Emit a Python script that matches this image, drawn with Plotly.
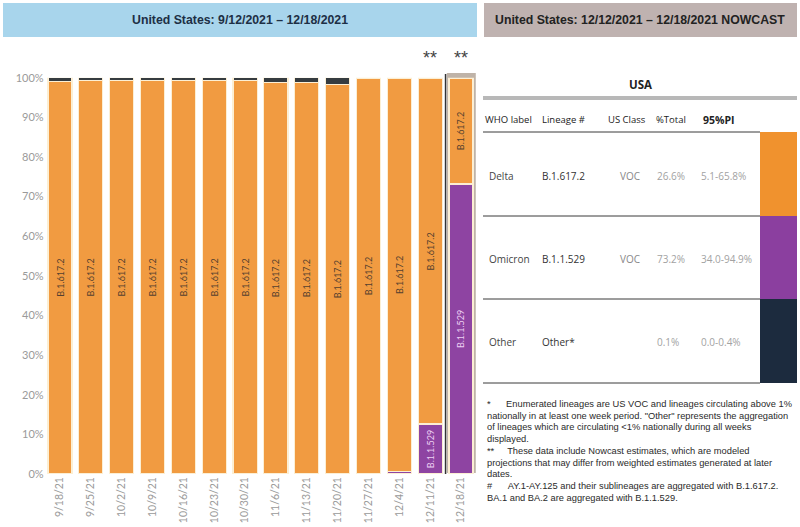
import plotly.graph_objects as go

### Data ###
weeks = ['9/18/21', '9/25/21', '10/2/21', '10/9/21', '10/16/21', '10/23/21', '10/30/21',
         '11/6/21', '11/13/21', '11/20/21', '11/27/21', '12/4/21', '12/11/21', '12/18/21']
omicron = [0, 0, 0, 0, 0, 0, 0, 0, 0, 0, 0, 0.6, 12.6, 73.2]
other = [0.9, 0.8, 0.8, 0.8, 0.8, 0.8, 0.8, 1.2, 1.2, 1.7, 0.1, 0.1, 0.3, 0.1]
delta = [round(100 - o - t, 1) for o, t in zip(omicron, other)]
delta_lbl = ['B.1.617.2'] * len(weeks)
omicron_lbl = ['', '', '', '', '', '', '', '', '', '', '', '', 'B.1.1.529', 'B.1.1.529']
yticks = [0, 10, 20, 30, 40, 50, 60, 70, 80, 90, 100]

# nowcast table
who_label = ['Delta', 'Omicron', 'Other']
lineage = ['B.1.617.2', 'B.1.1.529', 'Other*']
us_class = ['VOC', 'VOC', '']
pct_total = ['26.6%', '73.2%', '0.1%']
pi95 = ['5.1-65.8%', '34.0-94.9%', '0.0-0.4%']
table_cols = ['WHO label', 'Lineage #', 'US Class', '%Total', '95%PI']

footnotes = [
    '*\u00a0\u00a0\u00a0\u00a0\u00a0\u00a0Enumerated lineages are US VOC and lineages circulating above 1%',
    'nationally in at least one week period. "Other" represents the aggregation',
    'of lineages which are circulating <1% nationally during all weeks',
    'displayed.',
    '**\u00a0\u00a0\u00a0\u00a0\u00a0These data include Nowcast estimates, which are modeled',
    'projections that may differ from weighted estimates generated at later',
    'dates.',
    '#\u00a0\u00a0\u00a0\u00a0\u00a0\u00a0AY.1-AY.125 and their sublineages are aggregated with B.1.617.2.',
    'BA.1 and BA.2 are aggregated with B.1.1.529.',
]

ORANGE = '#f19b41'
PURPLE = '#8e44a2'
DARK = '#363c40'
W, H = 800, 527


def X(px):
    return px / W


def Y(py):
    return 1 - py / H


fig = go.Figure()

### Stacked bars ###
edge = dict(color='#fcefd4', width=1.2)
fig.add_trace(go.Bar(x=weeks, y=omicron, marker=dict(color=PURPLE, line=edge), text=omicron_lbl,
                     textposition='inside', insidetextanchor='middle', textangle=-90,
                     textfont=dict(size=9, color='#ecd0f2', family='Lato')))
fig.add_trace(go.Bar(x=weeks, y=delta, marker=dict(color=ORANGE, line=edge), text=delta_lbl,
                     textposition='inside', insidetextanchor='middle', textangle=-90,
                     textfont=dict(size=9, color='#54402f', family='Lato')))
fig.add_trace(go.Bar(x=weeks, y=other, marker=dict(color=DARK, line=edge), textposition='none'))

### Nowcast colour swatch ###
for val, col in [(1, '#1c2b3e'), (1, '#8b3f9f'), (1, '#f0922e')]:
    fig.add_trace(go.Bar(x=['USA'], y=[val], width=1, marker=dict(color=col, line=dict(width=0)),
                         xaxis='x2', yaxis='y2', textposition='none'))

shapes = []
ann = []


def note(px, py, txt, size, color, family='Open Sans', anchor='center'):
    ann.append(dict(x=X(px), y=Y(py), xref='paper', yref='paper', showarrow=False, text=txt,
                    xanchor=anchor, yanchor='middle', font=dict(size=size, color=color, family=family)))


# highlight of the nowcast week + separator
shapes.append(dict(type='rect', xref='x', yref='paper', x0=12.54, x1=13.48, y0=Y(473), y1=Y(73),
                   fillcolor='#bfb3a8', line=dict(width=0), layer='below'))
shapes.append(dict(type='line', xref='x', yref='paper', x0=12.5, x1=12.5, y0=Y(474), y1=Y(74),
                   line=dict(color='#333333', width=1.5)))
for i in [12, 13]:
    ann.append(dict(x=weeks[i], y=Y(58), xref='x', yref='paper', text='**', showarrow=False,
                    xanchor='center', yanchor='middle',
                    font=dict(size=18, color='#444444', family='Liberation Sans')))

# headers
shapes.append(dict(type='rect', xref='paper', yref='paper', x0=X(3), x1=X(477), y0=Y(37), y1=Y(3),
                   fillcolor='#a8d5ec', line=dict(width=0)))
shapes.append(dict(type='rect', xref='paper', yref='paper', x0=X(484), x1=X(797), y0=Y(37), y1=Y(3),
                   fillcolor='#bfb2b0', line=dict(width=0)))
note(240, 20, '<b>United States: 9/12/2021 – 12/18/2021</b>', 12.3, '#1d2f45', 'Liberation Sans')
note(640, 20, '<b>United States: 12/12/2021 – 12/18/2021 NOWCAST</b>', 12.3, '#222222', 'Liberation Sans')

# table
note(640, 84, '<b>USA</b>', 11.5, '#222222')
shapes.append(dict(type='line', xref='paper', yref='paper', x0=X(483), x1=X(797), y0=Y(98), y1=Y(98),
                   line=dict(color='#b8b8b8', width=4)))
col_x = [483, 540, 606, 654, 701]
for cx, name in zip(col_x, table_cols):
    if name == '95%PI':
        note(cx, 120, '<b>' + name + '</b>', 10.5, '#222222', anchor='left')
    else:
        note(cx, 120, name, 9.5, '#222222', anchor='left')
for ly in [132, 216, 299, 383]:
    shapes.append(dict(type='line', xref='paper', yref='paper', x0=X(483), x1=X(760), y0=Y(ly), y1=Y(ly),
                       line=dict(color='#3a3a3a', width=1)))
row_y = [176, 259, 342]
for r in range(3):
    note(487, row_y[r], who_label[r], 10, '#444444', anchor='left')
    note(540, row_y[r], lineage[r], 10, '#333333', anchor='left')
    note(618, row_y[r], us_class[r], 10, '#888888', anchor='left')
    note(655, row_y[r], pct_total[r], 10, '#a2a2a2', anchor='left')
    note(699, row_y[r], pi95[r], 10, '#a2a2a2', anchor='left')

# footnotes
for k, line in enumerate(footnotes):
    note(485, 404 + k * 11.7, line, 9.3, '#2a2a2a', 'Liberation Sans', anchor='left')

fig.update_layout(
    width=W, height=H,
    margin=dict(l=0, r=0, t=0, b=0, autoexpand=False),
    paper_bgcolor='white', plot_bgcolor='white',
    barmode='stack', bargap=0.22, showlegend=False,
    xaxis=dict(domain=[X(44.6), X(476.4)], type='category', tickangle=-90, showgrid=False,
               showline=False, zeroline=False, ticks='', automargin=False,
               tickfont=dict(size=10.5, color='#9a9a9a', family='Lato')),
    yaxis=dict(domain=[Y(474), Y(77.7)], range=[0, 100], tickvals=yticks,
               ticktext=[f'{v}%' for v in yticks], showgrid=False, zeroline=False, showline=False,
               ticks='', automargin=False, tickfont=dict(size=11, color='#9a9a9a', family='Lato')),
    xaxis2=dict(domain=[X(760), X(797)], range=[-0.5, 0.5], visible=False, anchor='y2', automargin=False),
    yaxis2=dict(domain=[Y(383), Y(132)], range=[0, 3], visible=False, anchor='x2', automargin=False),
    shapes=shapes,
    annotations=ann,
)

# drop the page's default body margin so the figure sits at the window origin
fig.write_html('out.html', config={'displayModeBar': False},
               post_script="document.body.style.margin='0';")
